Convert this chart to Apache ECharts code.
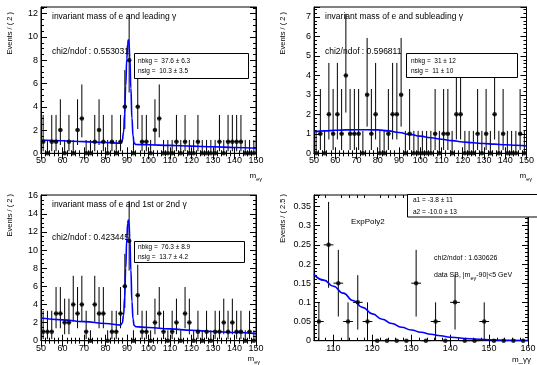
<!DOCTYPE html>
<html>
<head>
<meta charset="utf-8">
<script src="https://cdn.jsdelivr.net/npm/echarts@6/dist/echarts.min.js"></script>
<style>
  html, body { margin: 0; padding: 0; background: #fff; }
  #chart { width: 537px; height: 365px; }
</style>
</head>
<body>
<div id="chart"></div>
<script>
// bin centres of the m_eγ histograms (2 GeV bins, 50..150)
const massBins = [51, 53, 55, 57, 59, 61, 63, 65, 67, 69, 71, 73, 75, 77, 79, 81, 83, 85, 87, 89,
  91, 93, 95, 97, 99, 101, 103, 105, 107, 109, 111, 113, 115, 117, 119, 121, 123, 125, 127, 129,
  131, 133, 135, 137, 139, 141, 143, 145, 147, 149];
const leadingCounts = [1, 0, 1, 1, 2, 0, 1, 0, 2, 3, 0, 0, 1, 2, 1, 0, 1, 0, 1, 4,
  8, 0, 4, 1, 1, 0, 2, 3, 0, 0, 0, 1, 0, 1, 0, 0, 1, 0, 0, 0,
  0, 1, 0, 1, 1, 1, 1, 0, 0, 0];
const subleadingCounts = [0, 1, 0, 2, 1, 2, 1, 4, 1, 1, 1, 0, 3, 1, 2, 0, 0, 1, 2, 2,
  3, 0, 1, 0, 0, 0, 0, 0, 1, 0, 1, 1, 0, 2, 2, 0, 0, 0, 1, 0,
  1, 0, 2, 0, 1, 0, 0, 0, 1, 0];
const eitherCounts = [1, 1, 1, 3, 3, 2, 2, 4, 3, 4, 1, 0, 4, 3, 3, 0, 1, 1, 3, 6,
  11, 0, 5, 1, 1, 0, 2, 3, 1, 0, 1, 2, 0, 3, 2, 0, 1, 0, 1, 0,
  1, 1, 2, 1, 2, 1, 1, 0, 1, 0];
// asymmetric error bar ends read per count n = 0..11
const poissonLow = [0, 0.17, 0.71, 1.37, 2.09, 2.84, 3.62, 4.42, 5.23, 6.06, 6.89, 7.73];
const poissonHigh = [1.15, 3.3, 4.64, 5.92, 7.16, 8.38, 9.58, 10.77, 11.95, 13.11, 14.27, 15.42];

// side-band m_γγ histogram (2.5 GeV bins, 105..160)
const sidebandBins = [106.25, 108.75, 111.25, 113.75, 116.25, 118.75, 121.25, 123.75, 126.25, 128.75, 131.25,
  133.75, 136.25, 138.75, 141.25, 143.75, 146.25, 148.75, 151.25, 153.75, 156.25, 158.75];
const sidebandValues = [0.05, 0.25, 0.15, 0.05, 0.1, 0.05, 0, 0, 0, 0, 0.15,
  0, 0.05, 0, 0.1, 0, 0, 0.05, 0, 0, 0, 0];
const sidebandErrors = [0.05, 0.112, 0.087, 0.05, 0.071, 0.05, 0, 0, 0, 0, 0.087,
  0, 0.05, 0, 0.071, 0, 0, 0.05, 0, 0, 0, 0];
const sidebandTicks = [110, 120, 130, 140, 150, 160];
const sidebandMinorTicks = [106, 108, 112, 114, 116, 118, 122, 124, 126, 128, 132, 134, 136, 138,
  142, 144, 146, 148, 152, 154, 156, 158];

// fitted curves
const fitLeadingX = [50, 60, 70, 80, 87, 87.8, 88.4, 88.9, 89.4, 89.9, 90.3, 90.6, 90.9, 91.3, 91.8, 92.3, 92.8, 93.3, 94, 100, 110, 120, 130, 140, 150];
const fitLeadingY = [1.15, 1.08, 1.0, 0.93, 0.86, 1.1, 1.8, 3.4, 5.8, 8.1, 9.4, 9.75, 9.5, 8.3, 5.6, 3.0, 1.5, 0.9, 0.76, 0.73, 0.68, 0.62, 0.56, 0.5, 0.44];
const fitSubleadingX = [50, 55, 60, 65, 70, 75, 80, 85, 90, 95, 100, 105, 110, 115, 120, 125, 130, 135, 140, 145, 150];
const fitSubleadingY = [1.1, 1.15, 1.18, 1.2, 1.21, 1.21, 1.2, 1.15, 1.07, 0.97, 0.88, 0.8, 0.72, 0.65, 0.58, 0.54, 0.5, 0.47, 0.44, 0.41, 0.38];
const fitEitherX = [50, 60, 70, 80, 87, 87.8, 88.4, 88.9, 89.4, 89.9, 90.3, 90.6, 90.9, 91.3, 91.8, 92.3, 92.8, 93.3, 94, 100, 110, 120, 130, 140, 150];
const fitEitherY = [2.5, 2.3, 2.1, 1.9, 1.72, 1.95, 2.8, 4.8, 8.0, 11.2, 12.9, 13.3, 13.0, 11.4, 7.8, 4.3, 2.4, 1.7, 1.55, 1.45, 1.3, 1.15, 1.02, 0.9, 0.78];
const fitSidebandX = [105, 107.5, 110, 112.5, 115, 117.5, 120, 122.5, 125, 127.5, 130, 132.5, 135, 137.5, 140, 145, 150, 155, 160];
const fitSidebandY = [0.173, 0.158, 0.142, 0.124, 0.105, 0.087, 0.07, 0.056, 0.045, 0.035, 0.028, 0.022, 0.017, 0.013, 0.009, 0.005, 0.0025, 0.001, 0.0005];

const FONT = "'Liberation Sans', Arial, Helvetica, sans-serif";
const BLACK = '#000';
const BLUE = '#0000ff';

const chart = echarts.init(document.getElementById('chart'), null, { renderer: 'canvas' });

const zip = (xs, ys) => xs.map((x, i) => [x, ys[i]]);
const countRows = (counts) => counts.map((n, i) => [massBins[i], n, poissonLow[n], poissonHigh[n], 1]);
const sidebandRows = sidebandValues.map((v, i) => [sidebandBins[i], v, v - sidebandErrors[i], v + sidebandErrors[i], 1.25]);

function renderErrorBar(params, api) {
  const x = api.value(0), y = api.value(1), lo = api.value(2), hi = api.value(3), hw = api.value(4);
  const top = api.coord([x, hi]), bottom = api.coord([x, lo]);
  const left = api.coord([x - hw, y]), right = api.coord([x + hw, y]);
  const style = { stroke: BLACK, lineWidth: 1 };
  return {
    type: 'group',
    children: [
      { type: 'line', shape: { x1: top[0], y1: top[1], x2: bottom[0], y2: bottom[1] }, style },
      { type: 'line', shape: { x1: left[0], y1: left[1], x2: right[0], y2: right[1] }, style },
    ],
  };
}

const tickStyle = { lineStyle: { color: BLACK, width: 1 } };
const tickLabel = { color: BLACK, fontSize: 9, fontFamily: FONT, margin: 3, showMinLabel: true, showMaxLabel: true, hideOverlap: false };

function xAxes(gridIndex, min, max) {
  const base = {
    type: 'value', gridIndex, min, max, interval: 10,
    splitLine: { show: false },
    axisLine: { lineStyle: { color: BLACK } },
    axisTick: { inside: true, length: 6, ...tickStyle },
    minorTick: { show: true, splitNumber: 5, length: 3, ...tickStyle },
  };
  return [
    { ...base, position: 'bottom', axisLabel: { ...tickLabel } },
    { ...base, position: 'top', axisLabel: { show: false } },
  ];
}

function yAxes(gridIndex, max, interval, split, digits) {
  const isMajor = (v) => Math.abs(v / interval - Math.round(v / interval)) < 1e-6;
  const base = {
    type: 'value', gridIndex, min: 0, max, interval,
    splitLine: { show: false },
    axisLine: { lineStyle: { color: BLACK } },
    axisTick: { inside: true, length: 6, ...tickStyle },
    minorTick: { show: true, splitNumber: split, length: 3, ...tickStyle },
  };
  return [
    {
      ...base, position: 'left',
      axisLabel: { ...tickLabel, formatter: (v) => (isMajor(v) ? String(+v.toFixed(digits)) : '') },
    },
    { ...base, position: 'right', axisLabel: { show: false } },
  ];
}

// the side-band axis starts at 105 while its ticks sit on the tens, so ticks are listed
// (the library drops the label at the axis end here, so the last one is written separately)
function sidebandXAxes(gridIndex) {
  const base = {
    type: 'value', gridIndex, min: 105, max: 160,
    splitLine: { show: false },
    axisLine: { lineStyle: { color: BLACK } },
  };
  const withTicks = (values, length) => ({ inside: true, length, customValues: values, ...tickStyle });
  return [
    {
      ...base, position: 'bottom', axisTick: withTicks(sidebandTicks, 6),
      axisLabel: { ...tickLabel, customValues: sidebandTicks.slice(0, -1) },
    },
    { ...base, position: 'top', axisTick: withTicks(sidebandTicks, 6), axisLabel: { show: false } },
  ];
}

function sidebandMinorXAxes(gridIndex) {
  const base = {
    type: 'value', gridIndex, min: 105, max: 160,
    splitLine: { show: false },
    axisLine: { show: false },
    axisLabel: { show: false },
    axisTick: { inside: true, length: 3, customValues: sidebandMinorTicks, ...tickStyle },
  };
  return [{ ...base, position: 'bottom' }, { ...base, position: 'top' }];
}

function panelSeries(axisIndex, rows, fit) {
  return [
    {
      type: 'custom', xAxisIndex: axisIndex, yAxisIndex: axisIndex,
      renderItem: renderErrorBar, data: rows, encode: { x: 0, y: 1 }, z: 2, silent: true,
    },
    {
      type: 'line', xAxisIndex: axisIndex, yAxisIndex: axisIndex, data: fit,
      showSymbol: false, smooth: true, smoothMonotone: 'x',
      lineStyle: { color: BLUE, width: 1.6 }, z: 3, silent: true,
    },
    {
      type: 'scatter', xAxisIndex: axisIndex, yAxisIndex: axisIndex,
      data: rows.map((r) => [r[0], r[1]]),
      symbol: 'circle', symbolSize: 4.5, itemStyle: { color: BLACK }, z: 4, silent: true,
    },
  ];
}

const sub = { fontSize: 5.5, fontFamily: FONT, fill: BLACK, padding: [6, 0, 0, 0] };

function label(x, y, text, fontSize, extra) {
  return {
    type: 'text', x, y, z: 101,
    style: { text, fontSize, fontFamily: FONT, fill: BLACK, verticalAlign: 'middle', rich: { s: sub }, ...extra },
  };
}

function box(x, y, width, height) {
  return {
    type: 'rect', z: 100,
    shape: { x, y, width, height },
    style: { fill: '#fff', stroke: BLACK, lineWidth: 1 },
  };
}

function yTitle(x, y, text) {
  return {
    type: 'text', x, y, z: 101, rotation: Math.PI / 2,
    style: { text, fontSize: 7.5, fontFamily: FONT, fill: BLACK, align: 'right', verticalAlign: 'middle' },
  };
}

const gridStyle = { show: true, borderColor: BLACK, borderWidth: 1, backgroundColor: 'transparent', containLabel: false };

const option = {
  animation: false,
  backgroundColor: '#fff',
  grid: [
    { ...gridStyle, left: 41, top: 7, width: 215, height: 146.3 },
    { ...gridStyle, left: 314, top: 7, width: 216, height: 146.3 },
    { ...gridStyle, left: 41, top: 195, width: 215, height: 145.7 },
    { ...gridStyle, left: 314, top: 195, width: 214, height: 145.7 },
  ],
  xAxis: [
    ...xAxes(0, 50, 150),
    ...xAxes(1, 50, 150),
    ...xAxes(2, 50, 150),
    ...sidebandXAxes(3),
    ...sidebandMinorXAxes(3),
  ],
  yAxis: [
    ...yAxes(0, 12.58, 2, 4, 0),
    ...yAxes(1, 7.51, 1, 5, 0),
    ...yAxes(2, 16.07, 2, 4, 0),
    ...yAxes(3, 0.38, 0.05, 5, 2),
  ],
  series: [
    ...panelSeries(0, countRows(leadingCounts), zip(fitLeadingX, fitLeadingY)),
    ...panelSeries(2, countRows(subleadingCounts), zip(fitSubleadingX, fitSubleadingY)),
    ...panelSeries(4, countRows(eitherCounts), zip(fitEitherX, fitEitherY)),
    ...panelSeries(6, sidebandRows, zip(fitSidebandX, fitSidebandY)),
  ],
  graphic: [
    // top left
    yTitle(10, 12, 'Events / ( 2 )'),
    label(52, 17, 'invariant mass of e and leading γ', 8.5),
    label(52, 52, 'chi2/ndof : 0.553031', 8.5),
    box(134.5, 53.5, 114, 25),
    label(138, 61, 'nbkg =  37.6 ± 6.3', 6.5),
    label(138, 71, 'nsig =  10.3 ± 3.5', 6.5),
    label(262, 176, 'm{s|eγ}', 8, { align: 'right' }),
    // top right
    yTitle(283, 12, 'Events / ( 2 )'),
    label(325, 17, 'invariant mass of e and subleading γ', 8.5),
    label(325, 52, 'chi2/ndof : 0.596811', 8.5),
    box(406.5, 53.5, 111, 24),
    label(411, 61, 'nbkg =  31 ± 12', 6.5),
    label(411, 71, 'nsig =  11 ± 10', 6.5),
    label(532, 176, 'm{s|eγ}', 8, { align: 'right' }),
    // bottom left
    yTitle(10, 194, 'Events / ( 2 )'),
    label(52, 205, 'invariant mass of e and 1st or 2nd γ', 8.5),
    label(52, 238, 'chi2/ndof : 0.423445', 8.5),
    box(134.5, 241.5, 110, 21),
    label(138, 247, 'nbkg =  76.3 ± 8.9', 6.5),
    label(138, 257, 'nsig =  13.7 ± 4.2', 6.5),
    label(260, 359, 'm{s|eγ}', 8, { align: 'right' }),
    // bottom right
    yTitle(283, 194, 'Events / ( 2.5 )'),
    box(407.5, 194.5, 132, 22.5),
    label(413, 200, 'a1 = -3.8 ± 11', 6.5),
    label(413, 212, 'a2 = -10.0 ± 13', 6.5),
    label(351, 222, 'ExpPoly2', 8),
    label(434, 258, 'chi2/ndof : 1.630626', 7),
    label(434, 275, 'data SB, |m{s|eγ}-90|<5 GeV', 7),
    label(528, 343.7, String(sidebandTicks[sidebandTicks.length - 1]), 9, { align: 'center', verticalAlign: 'top' }),
    label(531, 360, 'm_γγ', 8, { align: 'right' }),
  ],
};

chart.setOption(option);
</script>
</body>
</html>
